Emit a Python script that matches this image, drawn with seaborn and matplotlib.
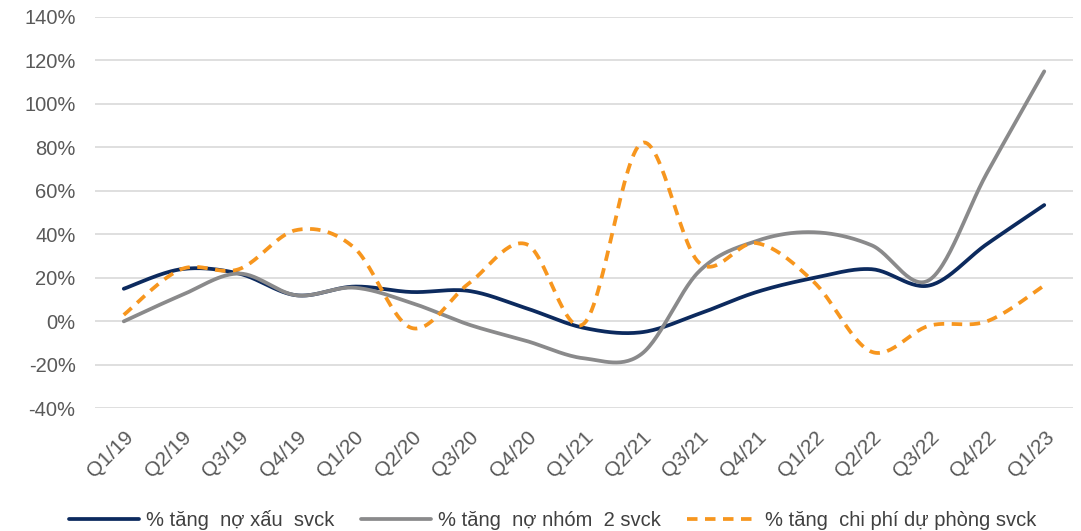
import numpy as np
import pandas as pd
import matplotlib
matplotlib.use("Agg")
import matplotlib.pyplot as plt
import seaborn as sns

# dữ liệu (%)
quarters = ['Q1/19', 'Q2/19', 'Q3/19', 'Q4/19', 'Q1/20', 'Q2/20', 'Q3/20', 'Q4/20', 'Q1/21',
            'Q2/21', 'Q3/21', 'Q4/21', 'Q1/22', 'Q2/22', 'Q3/22', 'Q4/22', 'Q1/23']
no_xau = [15, 24, 22, 12, 16, 13.5, 14, 6, -3, -5, 3.5, 13.5, 20, 24, 16.5, 35.5, 53.5]
no_nhom2 = [0, 12, 22, 12, 15.5, 8.5, -1.5, -9, -17, -15, 23, 37, 41, 35, 19, 68, 115]
du_phong = [3, 24, 24, 42, 34, -3, 17.5, 35.5, -1, 82, 27, 36, 18, -14, -2, 0, 16.5]

labels = ['% tăng  nợ xấu  svck', '% tăng  nợ nhóm  2 svck', '% tăng  chi phí dự phòng svck']
colors = ['#0c2a5e', '#8a8a8b', '#f7961e']


def smooth(vals, n=30):
    # đường cong kiểu "smoothed line" của Excel (Bezier / Catmull-Rom)
    y = np.asarray(vals, dtype=float) / 100
    x = np.arange(len(y), dtype=float)
    p = np.column_stack([x, y])
    pts = []
    for i in range(len(p) - 1):
        p0 = p[max(i - 1, 0)]
        p1, p2 = p[i], p[i + 1]
        p3 = p[min(i + 2, len(p) - 1)]
        c1 = p1 + (p2 - p0) / 6
        c2 = p2 - (p3 - p1) / 6
        t = np.linspace(0, 1, n, endpoint=(i == len(p) - 2))[:, None]
        seg = (1 - t) ** 3 * p1 + 3 * (1 - t) ** 2 * t * c1 + 3 * (1 - t) * t ** 2 * c2 + t ** 3 * p2
        pts.append(seg)
    pts = np.vstack(pts)
    return pd.DataFrame({'x': pts[:, 0], 'y': pts[:, 1]})


sns.set_style('white')
plt.rcParams['font.family'] = ['Liberation Sans', 'DejaVu Sans']

fig = plt.figure(figsize=(10.81, 5.31), dpi=100)
ax = fig.add_axes([0.0879, 0.231, 0.9047, 0.737])

for vals, lab, col, dashed in zip([no_xau, no_nhom2, du_phong], labels, colors, [False, False, True]):
    d = smooth(vals)
    line_kw = dict(dashes=(2.8, 2.0)) if dashed else {}
    sns.lineplot(data=d, x='x', y='y', sort=False, estimator=None, color=col,
                 linewidth=2.7, label=lab, ax=ax, **line_kw)

ax.set_xlim(-0.5, len(quarters) - 0.5)
ax.set_ylim(-0.4, 1.4)
ax.set_yticks(np.arange(-0.4, 1.41, 0.2))
ax.set_yticklabels([f'{v:.0f}%' for v in np.arange(-40, 141, 20)])
ax.set_xticks(range(len(quarters)))
ax.set_xticklabels(quarters, rotation=45, ha='right', rotation_mode='anchor')
ax.set_xlabel('')
ax.set_ylabel('')

ax.grid(axis='y', color='#d9d9d9', linewidth=1.2)
ax.grid(axis='x', visible=False)
ax.set_axisbelow(True)
for s in ax.spines.values():
    s.set_visible(False)
ax.tick_params(axis='y', length=0, pad=14, labelsize=14.5, labelcolor='#595959')
ax.tick_params(axis='x', length=0, pad=14, labelsize=15, labelcolor='#595959')

ax.get_legend().remove()
h, l = ax.get_legend_handles_labels()
fig.legend(h, l, loc='lower center', bbox_to_anchor=(0.511, -0.033), ncol=3, frameon=False,
           fontsize=14.5, handlelength=3.5, handletextpad=0.35, columnspacing=1.3,
           labelcolor='#404040')

fig.savefig('out.png', dpi=100)
